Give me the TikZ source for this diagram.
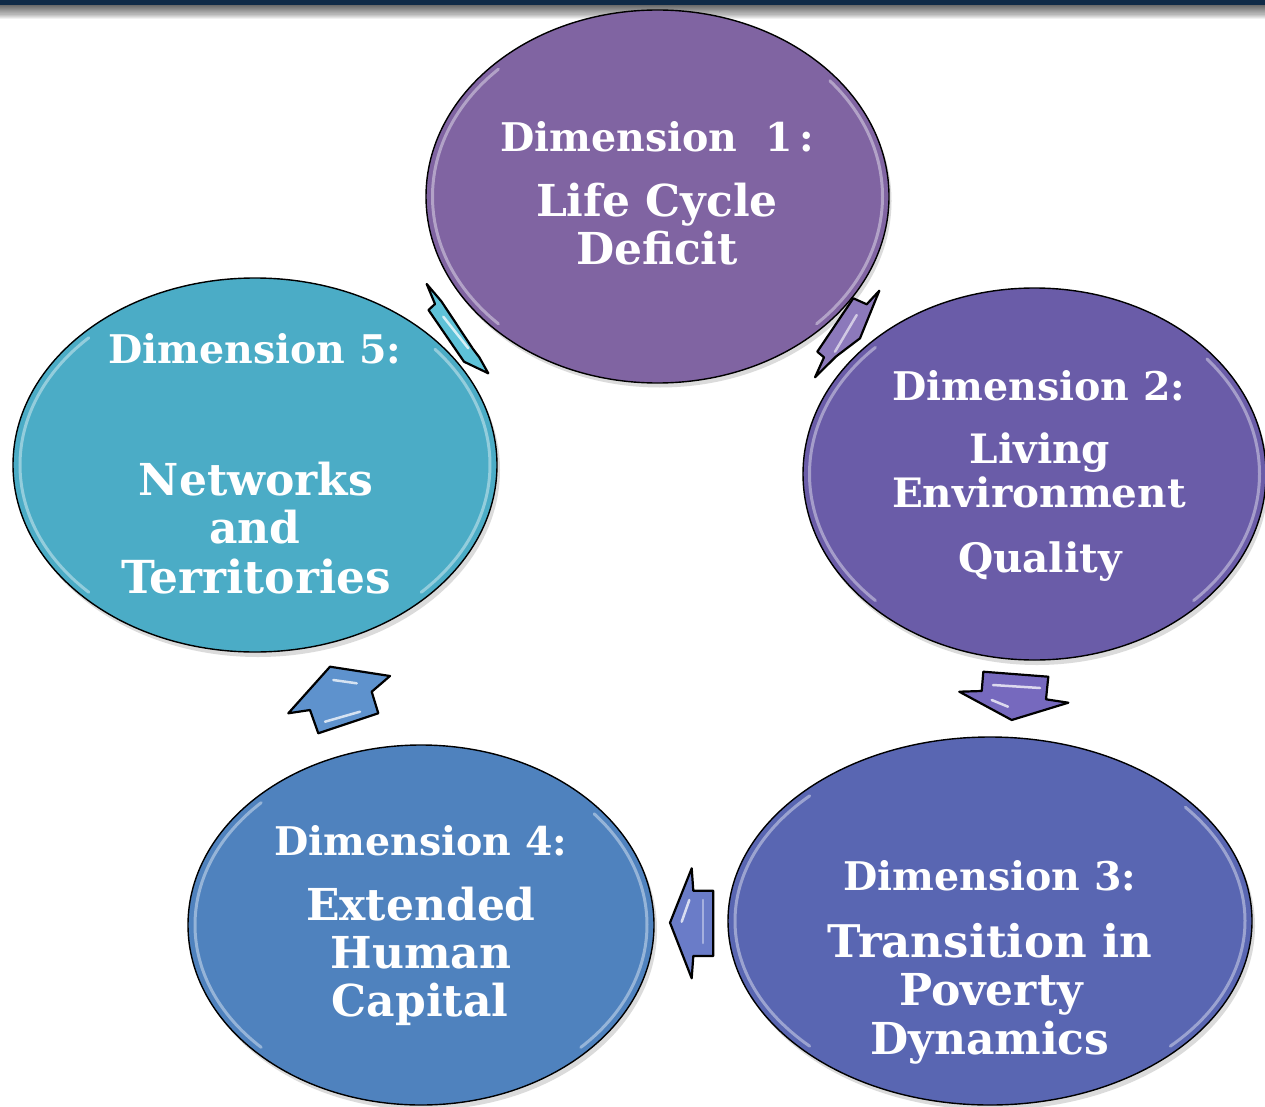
\documentclass[tikz,border=0pt]{standalone}
\usepackage{fontspec}
\setmainfont{DejaVu Serif}
\usetikzlibrary{shapes.geometric}
\definecolor{navyband}{HTML}{0F2A47}
\definecolor{cA}{HTML}{8064A2}
\definecolor{cB}{HTML}{6A5CA8}
\definecolor{cC}{HTML}{5966B2}
\definecolor{cD}{HTML}{4F82BE}
\definecolor{cE}{HTML}{4BACC6}
\definecolor{aA}{HTML}{5EC2D8}
\definecolor{aB}{HTML}{8C79BB}
\definecolor{aC}{HTML}{7669BE}
\definecolor{aD}{HTML}{6A7CC8}
\definecolor{aE}{HTML}{5E92CD}
\tikzset{
  ell/.style={ellipse, draw=black, line width=1.4pt, inner sep=0pt, fill=#1},
  shad/.style={ellipse, fill=black, opacity=0.14, inner sep=0pt, draw=none},
  rim/.style={white, opacity=0.4, line width=3pt, line cap=round},
  lbl/.style={anchor=base, text=white, font=\bfseries\fontsize{39.5}{39.5}\selectfont, inner sep=0pt},
  big/.style={anchor=base, text=white, font=\bfseries\fontsize{44}{44}\selectfont, inner sep=0pt},
  mid/.style={anchor=base, text=white, font=\bfseries\fontsize{40.5}{40.5}\selectfont, inner sep=0pt},
  blk/.style={draw=black, line width=2.2pt, line join=round, fill=#1},
  hl/.style={white, opacity=0.75, line width=2.5pt, line cap=round}
}
\begin{document}
\begin{tikzpicture}[x=1pt,y=-1pt]
\useasboundingbox (0,0) rectangle (1265,1107);
\fill[white] (0,0) rectangle (1265,1107);
% top band
\fill[navyband] (0,0) rectangle (1265,6);
\shade[top color=gray!90!black, bottom color=gray!45] (0,6) rectangle (1265,15);
\shade[top color=gray!45, bottom color=white] (0,15) rectangle (1265,19);

% shadows
\node[shad, minimum width=463pt, minimum height=373pt] (s1) at (660,201) {};
\node[shad, minimum width=463pt, minimum height=372pt] (s2) at (1037,479) {};
\node[shad, minimum width=524pt, minimum height=368pt] (s3) at (993,926) {};
\node[shad, minimum width=466pt, minimum height=360pt] (s4) at (424,930) {};
\node[shad, minimum width=484pt, minimum height=374pt] (s5) at (258,470) {};

% ellipses
\node[ell=cA, minimum width=463pt, minimum height=373pt] (e1) at (657.5,196.5) {};
\node[ell=cB, minimum width=463pt, minimum height=372pt] (e2) at (1034.5,474) {};
\node[ell=cC, minimum width=524pt, minimum height=368pt] (e3) at (990,921) {};
\node[ell=cD, minimum width=466pt, minimum height=360pt] (e4) at (421,925) {};
\node[ell=cE, minimum width=484pt, minimum height=374pt] (e5) at (255,465) {};

% glossy inner rims
\foreach \n/\rx/\ry in {e1/225/180, e2/225/179, e3/255/177, e4/226/173, e5/235/180}{
  \draw[rim] (\n.center) ++(135:\rx pt and \ry pt) arc[start angle=135, end angle=225, x radius=\rx pt, y radius=\ry pt];
  \draw[rim] (\n.center) ++(-45:\rx pt and \ry pt) arc[start angle=-45, end angle=40, x radius=\rx pt, y radius=\ry pt];
}

% arrows
\draw[blk=aA] (426.7,284) -- (441.5,301.5) -- (473,349) -- (479.3,357.3) -- (488.3,373.3) -- (464,361.7) -- (428.5,310) -- (435,304) -- cycle;
\draw[hl] (443.3,316.7) -- (468.3,348.3);
\draw[blk=aB] (853.3,298.3) -- (866.7,304.3) -- (879.3,290.7) -- (860,338.3) -- (836,356.5) -- (815,377.3) -- (824,357.3) -- (817.3,351.7) -- cycle;
\draw[hl, opacity=0.6] (856.7,315) -- (835,351.7);
\draw[blk=aC] (983.3,671.7) -- (1048.3,676.7) -- (1046,699.3) -- (1068.3,702.7) -- (1011.7,720) -- (959.3,691.7) -- (981.7,691) -- cycle;
\draw[hl] (993,685) -- (1040,688);
\draw[hl] (991.7,700) -- (1008,706.7);
\draw[blk=aD] (713.3,890.7) -- (713.3,956) -- (693.3,956) -- (691.7,978.3) -- (670,922.7) -- (691.7,868.3) -- (693.3,890.7) -- cycle;
\draw[hl] (681.7,921.7) -- (689.3,900);
\draw[hl, opacity=0.4] (703,900) -- (703,943);
\draw[blk=aE] (330,666.7) -- (390,676) -- (371.7,691.7) -- (378.3,713.3) -- (318.3,733.3) -- (310,710) -- (288.3,713.3) -- cycle;
\draw[hl] (333.3,680) -- (356.7,683.3);
\draw[hl] (325,721.7) -- (360,711.7);

% texts
\node[lbl] (t1a) at (657,152) {Dimension\ \ 1\,:};
\node[big] (t1b) at (657,217) {Life Cycle};
\node[big] (t1c) at (657,265) {Deficit};

\node[lbl] (t2a) at (1039,400) {Dimension 2:};
\node[mid] (t2b) at (1040,463) {Living};
\node[mid] (t2c) at (1039,507) {Environment};
\node[mid] (t2d) at (1040,572) {Quality};

\node[lbl] (t3a) at (990,890) {Dimension 3:};
\node[big, font=\bfseries\fontsize{45}{45}\selectfont] (t3b) at (990,957) {Transition in};
\node[big] (t3c) at (991,1005) {Poverty};
\node[big] (t3d) at (990,1054) {Dynamics};

\node[lbl] (t4a) at (421,855) {Dimension 4:};
\node[big] (t4b) at (421,920) {Extended};
\node[big] (t4c) at (421,968) {Human};
\node[big] (t4d) at (420,1016) {Capital};

\node[lbl] (t5a) at (255,363) {Dimension 5:};
\node[big] (t5b) at (256,495) {Networks};
\node[big] (t5c) at (255,543) {and};
\node[big, font=\bfseries\fontsize{45.5}{45.5}\selectfont] (t5d) at (256,593) {Territories};
\end{tikzpicture}
\end{document}
